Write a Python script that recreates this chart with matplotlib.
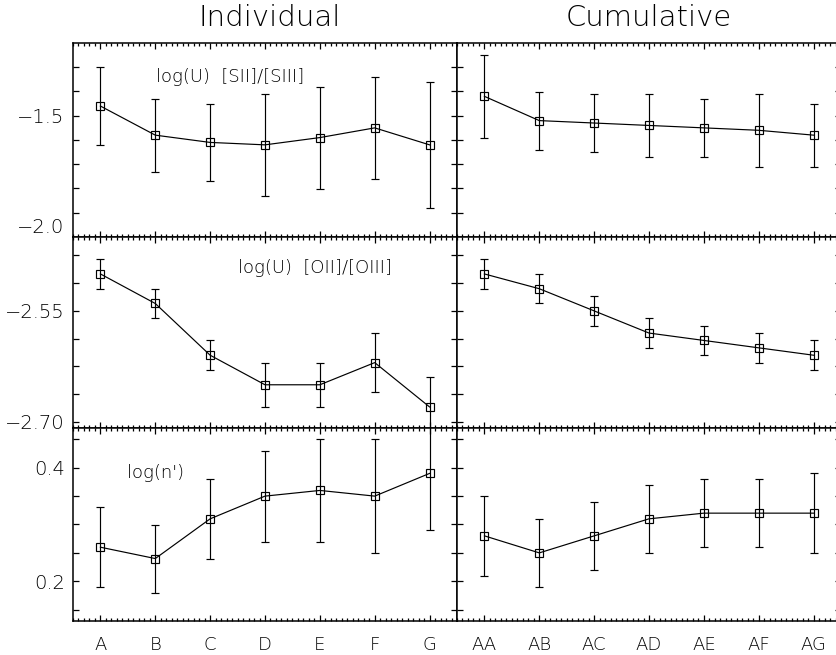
"""Ionisation parameter and density trends, individual vs cumulative bins."""

import matplotlib
matplotlib.use("Agg")
import matplotlib.pyplot as plt
import numpy as np
from matplotlib.ticker import MultipleLocator

plt.rcParams["font.family"] = ["DejaVu Sans"]
plt.rcParams["font.weight"] = "light"

CATS_IND = ["A", "B", "C", "D", "E", "F", "G"]
CATS_CUM = ["AA", "AB", "AC", "AD", "AE", "AF", "AG"]

# log(U) from [SII]/[SIII]
LOGU_S_IND = [-1.46, -1.58, -1.61, -1.62, -1.59, -1.55, -1.62]
LOGU_S_IND_ERR = [0.16, 0.15, 0.16, 0.21, 0.21, 0.21, 0.26]
LOGU_S_CUM = [-1.42, -1.52, -1.53, -1.54, -1.55, -1.56, -1.58]
LOGU_S_CUM_ERR = [0.17, 0.12, 0.12, 0.13, 0.12, 0.15, 0.13]

# log(U) from [OII]/[OIII]
LOGU_O_IND = [-2.50, -2.54, -2.61, -2.65, -2.65, -2.62, -2.68]
LOGU_O_IND_ERR = [0.02, 0.02, 0.02, 0.03, 0.03, 0.04, 0.04]
LOGU_O_CUM = [-2.50, -2.52, -2.55, -2.58, -2.59, -2.60, -2.61]
LOGU_O_CUM_ERR = [0.02, 0.02, 0.02, 0.02, 0.02, 0.02, 0.02]

# log(n')
LOGN_IND = [0.26, 0.24, 0.31, 0.35, 0.36, 0.35, 0.39]
LOGN_IND_ERR = [0.07, 0.06, 0.07, 0.08, 0.09, 0.10, 0.10]
LOGN_CUM = [0.28, 0.25, 0.28, 0.31, 0.32, 0.32, 0.32]
LOGN_CUM_ERR = [0.07, 0.06, 0.06, 0.06, 0.06, 0.06, 0.07]

ROW_LABELS = ["log(U)  [SII]/[SIII]", "log(U)  [OII]/[OIII]", "log(n')"]
COLUMN_TITLES = ["Individual", "Cumulative"]

# per row: ylim, tick positions, labelled ticks
ROW_YAXIS = [
    ((-2.0, -1.2), np.arange(-2.0, -1.25, 0.1), {-2.0: "\u22122.0", -1.5: "\u22121.5"}),
    ((-2.7085, -2.45), -2.70 + 0.0375 * np.arange(7), {-2.70: "\u22122.70", -2.55: "\u22122.55"}),
    ((0.13, 0.47), np.arange(0.15, 0.46, 0.05), {0.2: "0.2", 0.4: "0.4"}),
]
ROW_TEXT_POS = [(0.41, 0.825), (0.63, 0.84), (0.216, 0.766)]

# axes edges in figure pixels
FIG_W, FIG_H = 836, 655
COL_X = [(73, 457), (457, 841)]
ROW_Y = [(43, 237), (237, 428), (428, 621)]


def draw_panel(ax, cats, values, errors, row, col):
    x = np.arange(len(cats))
    ax.errorbar(x, values, yerr=errors, color="black", lw=0.85, elinewidth=0.85,
                capsize=2.8, capthick=0.85, marker="s", ms=6, mfc="none",
                mec="black", mew=0.85)
    ax.set_xlim(-0.5, len(cats) - 0.5)
    ylim, yticks, labelled = ROW_YAXIS[row]
    ax.set_ylim(*ylim)
    ax.set_yticks(yticks)
    ax.set_yticklabels([next((v for k, v in labelled.items() if abs(k - t) < 1e-6), "") for t in yticks])
    ax.set_xticks(x)
    ax.xaxis.set_minor_locator(MultipleLocator(0.1))
    ax.tick_params(which="both", direction="in", top=True, right=True, width=0.9, colors="black")
    ax.tick_params(axis="y", which="major", length=4, pad=6, labelsize=14)
    ax.tick_params(axis="x", which="major", length=4, pad=11, labelsize=13)
    ax.tick_params(axis="x", which="minor", length=2)
    if row == 2:
        ax.set_xticklabels(cats)
    else:
        ax.set_xticklabels([])
    if col == 1:
        ax.tick_params(axis="y", labelleft=False)
    elif row == 0:
        # the bottom label sits just above the shared edge
        ax.get_yticklabels()[0].set_va("bottom")
    for spine in ax.spines.values():
        spine.set_linewidth(1.1)
    if col == 0:
        tx, ty = ROW_TEXT_POS[row]
        ax.text(tx, ty, ROW_LABELS[row], transform=ax.transAxes, ha="center", va="center", fontsize=13)


def main():
    fig = plt.figure(figsize=(FIG_W / 100, FIG_H / 100), dpi=100)
    data = [
        [(LOGU_S_IND, LOGU_S_IND_ERR), (LOGU_S_CUM, LOGU_S_CUM_ERR)],
        [(LOGU_O_IND, LOGU_O_IND_ERR), (LOGU_O_CUM, LOGU_O_CUM_ERR)],
        [(LOGN_IND, LOGN_IND_ERR), (LOGN_CUM, LOGN_CUM_ERR)],
    ]
    for row, (top, bottom) in enumerate(ROW_Y):
        for col, (left, right) in enumerate(COL_X):
            rect = [left / FIG_W, 1 - bottom / FIG_H, (right - left) / FIG_W, (bottom - top) / FIG_H]
            ax = fig.add_axes(rect)
            cats = CATS_IND if col == 0 else CATS_CUM
            values, errors = data[row][col]
            draw_panel(ax, cats, values, errors, row, col)

    fig.text(270 / FIG_W, 1 - 18 / FIG_H, COLUMN_TITLES[0], ha="center", va="center", fontsize=21)
    fig.text(649 / FIG_W, 1 - 18 / FIG_H, COLUMN_TITLES[1], ha="center", va="center", fontsize=21)
    fig.savefig("out.png", dpi=100)


if __name__ == "__main__":
    main()
